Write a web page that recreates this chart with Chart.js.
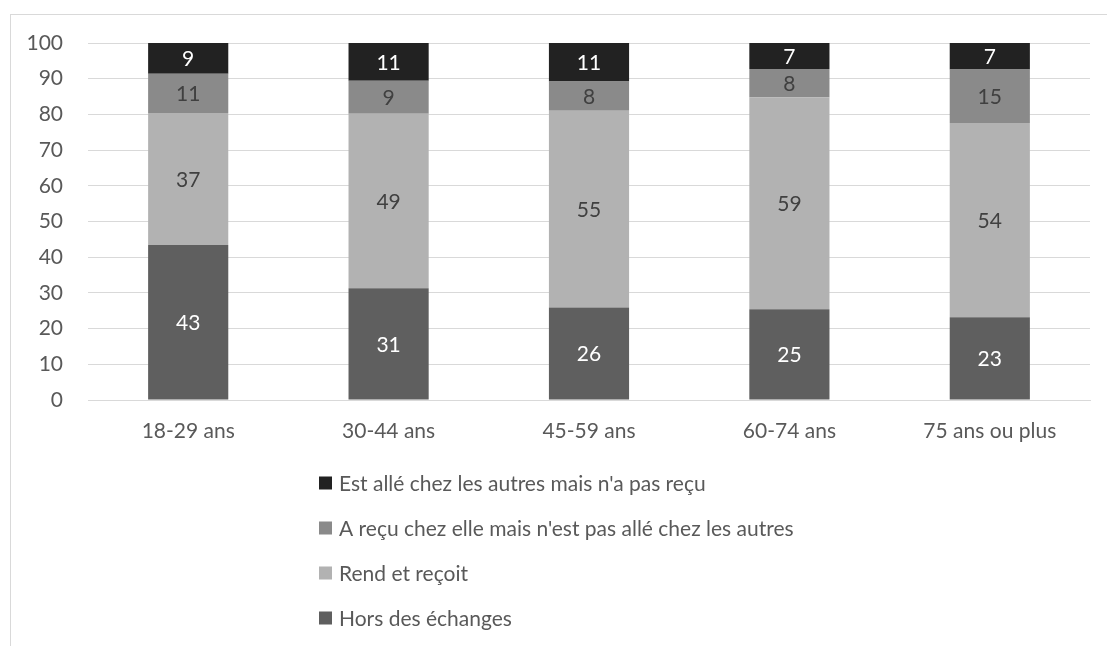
<!DOCTYPE html>
<html>
<head>
<meta charset="utf-8">
<script src="https://cdn.jsdelivr.net/npm/chart.js@4/dist/chart.umd.min.js"></script>
<style>
  html, body { margin: 0; padding: 0; background: #fff; }
  #chart { display: block; }
</style>
</head>
<body>
<canvas id="chart" width="1107" height="646"></canvas>
<script>
const categories = ["18-29 ans", "30-44 ans", "45-59 ans", "60-74 ans", "75 ans ou plus"];
const horsEchanges = [43.4, 31.3, 25.9, 25.4, 23.2];
const rendRecoit = [37.0, 48.9, 55.1, 59.4, 54.4];
const recuPasAlle = [11.0, 9.2, 8.2, 7.9, 15.0];
const allePasRecu = [8.6, 10.6, 10.8, 7.3, 7.4];
const yMax = 100;
const yStep = 10;

const textColor = "#595959";
const gridColor = "#d9d9d9";
const fontFamily = "Lato, 'Noto Sans', sans-serif";
Chart.defaults.font.family = fontFamily;
Chart.defaults.font.size = 21;
Chart.defaults.color = textColor;

// cadre gris autour de la zone du graphique
const frame = {
  id: "frame",
  beforeDraw(chart) {
    const ctx = chart.ctx;
    ctx.save();
    ctx.strokeStyle = gridColor;
    ctx.lineWidth = 1;
    ctx.strokeRect(10.5, 14.5, 1300, 800);
    ctx.restore();
  },
};

// étiquettes de valeur au centre de chaque segment
const valueLabels = {
  id: "valueLabels",
  afterDatasetsDraw(chart) {
    const ctx = chart.ctx;
    ctx.save();
    ctx.font = "21px " + fontFamily;
    ctx.textAlign = "center";
    ctx.textBaseline = "middle";
    chart.data.datasets.forEach((ds, i) => {
      const meta = chart.getDatasetMeta(i);
      meta.data.forEach((bar, j) => {
        ctx.fillStyle = ds.labelColor;
        ctx.fillText(Math.round(ds.data[j]), bar.x, (bar.y + bar.base) / 2 + 1);
      });
    });
    ctx.restore();
  },
};

// légende verticale sous le graphique
const stackedLegend = {
  id: "stackedLegend",
  afterDraw(chart) {
    const ctx = chart.ctx;
    const items = chart.data.datasets.slice().reverse();
    ctx.save();
    ctx.font = "21px " + fontFamily;
    ctx.textAlign = "left";
    ctx.textBaseline = "middle";
    items.forEach((ds, k) => {
      const cy = 483 + k * 45;
      ctx.fillStyle = ds.backgroundColor;
      ctx.fillRect(319, cy - 6.5, 13, 13);
      ctx.fillStyle = textColor;
      ctx.fillText(ds.label, 339, cy + 1);
    });
    ctx.restore();
  },
};

new Chart(document.getElementById("chart"), {
  type: "bar",
  data: {
    labels: categories,
    datasets: [
      {
        label: "Hors des échanges",
        data: horsEchanges,
        backgroundColor: "#5f5f5f",
        labelColor: "#ffffff",
      },
      {
        label: "Rend et reçoit",
        data: rendRecoit,
        backgroundColor: "#b2b2b2",
        labelColor: "#404040",
      },
      {
        label: "A reçu chez elle mais n'est pas allé chez les autres",
        data: recuPasAlle,
        backgroundColor: "#8a8a8a",
        labelColor: "#404040",
      },
      {
        label: "Est allé chez les autres mais n'a pas reçu",
        data: allePasRecu,
        backgroundColor: "#222222",
        labelColor: "#ffffff",
      },
    ],
  },
  options: {
    responsive: false,
    animation: false,
    datasets: {
      bar: {
        barPercentage: 0.4,
        categoryPercentage: 1,
      },
    },
    layout: {
      padding: { left: 0, right: 17, top: 43, bottom: 0 },
    },
    plugins: {
      legend: { display: false },
      tooltip: { enabled: false },
    },
    scales: {
      x: {
        stacked: true,
        grid: { display: false, drawTicks: false },
        border: { display: true, color: gridColor, width: 1 },
        ticks: { padding: 19, color: textColor },
        afterFit(scale) {
          scale.height = 246;
        },
      },
      y: {
        stacked: true,
        min: 0,
        max: yMax,
        ticks: { stepSize: yStep, padding: 25, color: textColor },
        grid: { color: gridColor, drawTicks: false },
        border: { display: false },
        afterFit(scale) {
          scale.width = 88;
        },
      },
    },
  },
  plugins: [frame, valueLabels, stackedLegend],
});
</script>
</body>
</html>
